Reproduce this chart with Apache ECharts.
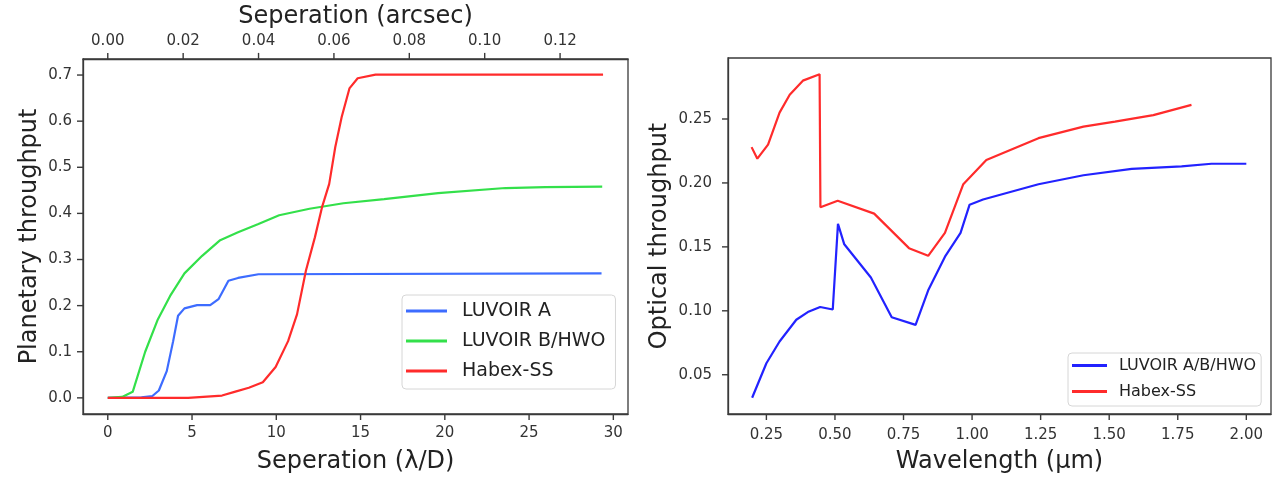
<!DOCTYPE html>
<html>
<head>
<meta charset="utf-8">
<script src="https://cdn.jsdelivr.net/npm/echarts@6/dist/echarts.min.js"></script>
<style>
  html, body { margin: 0; padding: 0; background: #fff; }
  #chart { width: 1278px; height: 481px; }
</style>
</head>
<body>
<div id="chart"></div>
<script>
// left panel: planetary throughput vs separation (lambda/D)
var sepLuvA = [0, 2.0, 2.65, 3.03, 3.5, 3.88, 4.17, 4.55, 5.3, 6.08, 6.57, 7.16, 7.73, 8.94, 29.3];
var thrLuvA = [0, 0.001, 0.004, 0.016, 0.058, 0.123, 0.178, 0.194, 0.201, 0.201, 0.214, 0.254, 0.26, 0.268, 0.27];

var sepLuvB = [0, 0.85, 1.48, 2.22, 2.97, 3.7, 4.55, 5.6, 6.67, 7.73, 8.94, 10.17, 11.97, 13.98, 16.4, 19.6, 23.6, 25.95, 29.34];
var thrLuvB = [0, 0.002, 0.013, 0.1, 0.17, 0.221, 0.27, 0.308, 0.342, 0.359, 0.377, 0.396, 0.41, 0.422, 0.431, 0.444, 0.455, 0.457, 0.458];

var sepHabex = [0, 4.77, 6.78, 7.52, 8.37, 9.2, 9.96, 10.7, 11.23, 11.76, 12.29, 12.71, 13.14, 13.5, 13.88, 14.34, 14.83, 15.89, 29.39];
var thrHabex = [0, 0, 0.005, 0.013, 0.022, 0.034, 0.067, 0.123, 0.181, 0.276, 0.348, 0.413, 0.464, 0.544, 0.609, 0.671, 0.693, 0.701, 0.701];

var sepTicks = [0, 5, 10, 15, 20, 25, 30];
var arcsecTicks = [0, 0.02, 0.04, 0.06, 0.08, 0.10, 0.12];
var planTicks = [0, 0.1, 0.2, 0.3, 0.4, 0.5, 0.6, 0.7];
var arcsecPerLD = 0.004471; // top axis conversion

// right panel: optical throughput vs wavelength (um)
var wlLuv = [0.198, 0.25, 0.298, 0.359, 0.401, 0.446, 0.492, 0.511, 0.534, 0.631, 0.707, 0.794, 0.84, 0.903, 0.958, 0.991, 1.04, 1.242, 1.406, 1.582, 1.764, 1.873, 2.0];
var optLuv = [0.032, 0.059, 0.076, 0.093, 0.099, 0.103, 0.101, 0.168, 0.152, 0.126, 0.095, 0.089, 0.116, 0.143, 0.161, 0.183, 0.187, 0.199, 0.206, 0.211, 0.213, 0.215, 0.215];

var wlHabex = [0.196, 0.217, 0.256, 0.298, 0.335, 0.383, 0.444, 0.447, 0.51, 0.643, 0.77, 0.84, 0.901, 0.968, 1.052, 1.242, 1.406, 1.521, 1.661, 1.8];
var optHabex = [0.228, 0.219, 0.230, 0.255, 0.269, 0.280, 0.285, 0.181, 0.186, 0.176, 0.149, 0.143, 0.161, 0.199, 0.218, 0.235, 0.244, 0.248, 0.253, 0.261];

var wlTicks = [0.25, 0.5, 0.75, 1.0, 1.25, 1.5, 1.75, 2.0];
var optTicks = [0.05, 0.10, 0.15, 0.20, 0.25];

// axis ranges (matplotlib-style 5% margins)
var sepRange = [-1.47, 30.87];
var planRange = [-0.035, 0.735];
var wlRange = [0.11, 2.09];
var optRange = [0.0193, 0.2977];

function zip(xs, ys) {
  return xs.map(function (x, i) { return [x, ys[i]]; });
}

var axisColor = '#3a3a3a';
var labelColor = '#333';

function valAxis(o) {
  return {
    type: 'value',
    gridIndex: o.grid,
    position: o.position,
    min: o.range[0],
    max: o.range[1],
    axisLine: { show: true, onZero: false, lineStyle: { color: axisColor, width: 1.3 } },
    splitLine: { show: false },
    axisTick: { show: false },
    axisLabel: {
      customValues: o.ticks,
      margin: o.margin,
      fontSize: 15,
      color: labelColor,
      formatter: function (v) { return o.dec == null ? String(Math.round(v)) : v.toFixed(o.dec); }
    },
    name: o.name,
    nameLocation: 'middle',
    nameGap: o.nameGap,
    nameTextStyle: { fontSize: 24, color: '#222' }
  };
}

// outward tick marks, placed through the axes' own scales
function tickSeries(xi, yi, data, side, len) {
  return {
    type: 'custom',
    xAxisIndex: xi, yAxisIndex: yi,
    data: data,
    clip: false,
    silent: true,
    zlevel: 1,
    z: 100,
    renderItem: function (params, api) {
      var p = api.coord([api.value(0), api.value(1)]);
      var shape;
      if (side === 'bottom') shape = { x1: p[0], y1: p[1], x2: p[0], y2: p[1] + len };
      else if (side === 'top') shape = { x1: p[0], y1: p[1], x2: p[0], y2: p[1] - len };
      else shape = { x1: p[0], y1: p[1], x2: p[0] - len, y2: p[1] };
      return { type: 'line', shape: shape, style: { stroke: axisColor, lineWidth: 1.4 } };
    }
  };
}

var chart = echarts.init(document.getElementById('chart'));

chart.setOption({
  animation: false,
  textStyle: { fontFamily: 'DejaVu Sans' },
  grid: [
    { left: 83, top: 58, width: 545, height: 356, show: true, borderColor: axisColor, borderWidth: 1.3 },
    { left: 728, top: 58, width: 543, height: 356, show: true, borderColor: axisColor, borderWidth: 1.3 }
  ],
  xAxis: [
    valAxis({ grid: 0, position: 'bottom', range: sepRange, ticks: sepTicks, margin: 12, name: 'Seperation (λ/D)', nameGap: 36 }),
    valAxis({ grid: 0, position: 'top', range: [sepRange[0] * arcsecPerLD, sepRange[1] * arcsecPerLD], ticks: arcsecTicks, dec: 2, margin: 10, name: 'Seperation (arcsec)', nameGap: 29 }),
    valAxis({ grid: 1, position: 'bottom', range: wlRange, ticks: wlTicks, dec: 2, margin: 14, name: 'Wavelength (μm)', nameGap: 36 })
  ],
  yAxis: [
    valAxis({ grid: 0, position: 'left', range: planRange, ticks: planTicks, dec: 1, margin: 11, name: 'Planetary throughput', nameGap: 41 }),
    valAxis({ grid: 1, position: 'left', range: optRange, ticks: optTicks, dec: 2, margin: 16, name: 'Optical throughput', nameGap: 56 })
  ],
  legend: [
    {
      data: ['LUVOIR A', 'LUVOIR B/HWO', 'Habex-SS'],
      orient: 'vertical',
      left: 402, top: 295,
      padding: [6, 10, 8, 4],
      itemWidth: 41, itemHeight: 3, itemGap: 10,
      icon: 'rect',
      backgroundColor: 'rgba(255,255,255,0.85)',
      borderColor: '#d6d6d6', borderWidth: 1, borderRadius: 4,
      textStyle: { fontSize: 19, lineHeight: 20, color: '#222', padding: [0, 0, 0, 10] }
    },
    {
      data: ['LUVOIR A/B/HWO', 'Habex-SS'],
      orient: 'vertical',
      left: 1068, top: 353,
      padding: [4, 5, 6, 4],
      itemWidth: 35, itemHeight: 3, itemGap: 9,
      icon: 'rect',
      backgroundColor: 'rgba(255,255,255,0.85)',
      borderColor: '#d6d6d6', borderWidth: 1, borderRadius: 4,
      textStyle: { fontSize: 16, lineHeight: 17, color: '#222', padding: [0, 0, 0, 7] }
    }
  ],
  series: [
    { name: 'LUVOIR A', type: 'line', xAxisIndex: 0, yAxisIndex: 0, data: zip(sepLuvA, thrLuvA), symbol: 'none', color: '#3d6cff', lineStyle: { width: 2.2 } },
    { name: 'LUVOIR B/HWO', type: 'line', xAxisIndex: 0, yAxisIndex: 0, data: zip(sepLuvB, thrLuvB), symbol: 'none', color: '#33e04a', lineStyle: { width: 2.2 } },
    { name: 'Habex-SS', type: 'line', xAxisIndex: 0, yAxisIndex: 0, data: zip(sepHabex, thrHabex), symbol: 'none', color: '#ff2b2b', lineStyle: { width: 2.2 } },
    { name: 'LUVOIR A/B/HWO', type: 'line', xAxisIndex: 2, yAxisIndex: 1, data: zip(wlLuv, optLuv), symbol: 'none', color: '#2222ff', lineStyle: { width: 2.2 } },
    { name: 'Habex-SS', type: 'line', xAxisIndex: 2, yAxisIndex: 1, data: zip(wlHabex, optHabex), symbol: 'none', color: '#ff2b2b', lineStyle: { width: 2.2 } },
    tickSeries(0, 0, sepTicks.map(function (v) { return [v, planRange[0]]; }), 'bottom', 6),
    tickSeries(1, 0, arcsecTicks.map(function (v) { return [v, planRange[1]]; }), 'top', 6),
    tickSeries(0, 0, planTicks.map(function (v) { return [sepRange[0], v]; }), 'left', 6),
    tickSeries(2, 1, wlTicks.map(function (v) { return [v, optRange[0]]; }), 'bottom', 6),
    tickSeries(2, 1, optTicks.map(function (v) { return [wlRange[0], v]; }), 'left', 6)
  ]
});
</script>
</body>
</html>
